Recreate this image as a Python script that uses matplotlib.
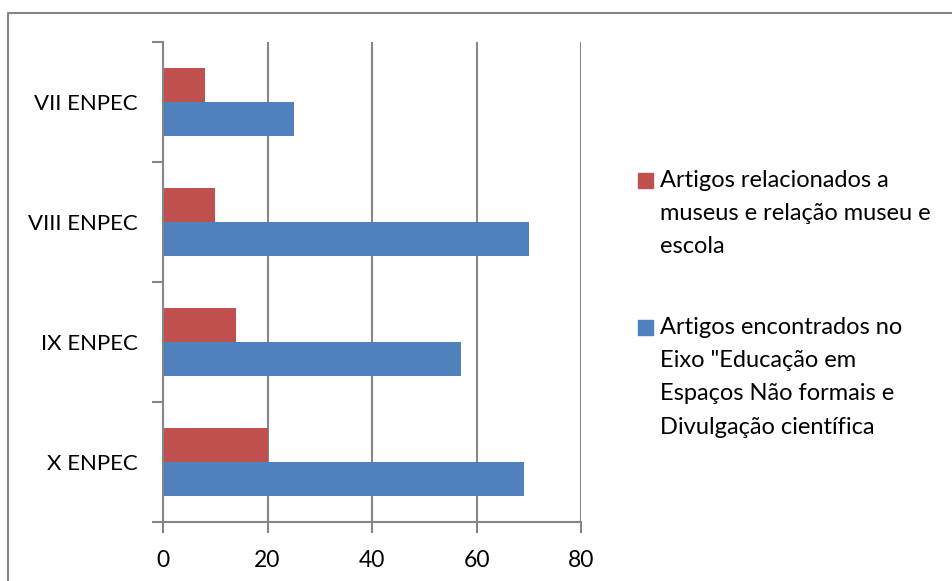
import numpy as np
import matplotlib.pyplot as plt
from matplotlib.patches import Rectangle
from matplotlib.lines import Line2D

plt.rcParams['font.family'] = ['Lato', 'DejaVu Sans']

# data, bottom to top as drawn
eventos = ['X ENPEC', 'IX ENPEC', 'VIII ENPEC', 'VII ENPEC']
museus = [20, 14, 10, 8]
eixo = [69, 57, 70, 25]

lbl_museus = 'Artigos relacionados a\nmuseus e relação museu e\nescola'
lbl_eixo = 'Artigos encontrados no\nEixo "Educação em\nEspaços Não formais e\nDivulgação científica'

red = '#C0504D'
blue = '#4F81BD'
gray = '#868686'

W, H = 953, 581
fig = plt.figure(figsize=(W/100, H/100), dpi=100)
ax = fig.add_axes([163/W, 59/H, 418/W, 480/H])

y = np.arange(len(eventos))
h = 0.2857
ax.barh(y + h/2, museus, height=h, color=red, zorder=3)
ax.barh(y - h/2, eixo, height=h, color=blue, zorder=3)

ax.set_xlim(0, 80)
ax.set_ylim(-0.5, len(eventos) - 0.5)
ax.set_xticks(np.arange(0, 81, 20))
ax.set_yticks(y)
ax.set_yticklabels(eventos)
ax.set_yticks(np.arange(-0.5, len(eventos), 1), minor=True)
ax.tick_params(axis='y', which='major', length=0, pad=18, labelsize=16)
ax.tick_params(axis='y', which='minor', length=8, width=1.5, color=gray)
ax.tick_params(axis='x', length=8, width=1.5, color=gray, pad=12, labelsize=16.5)
ax.xaxis.grid(True, color=gray, linewidth=1.5, zorder=0)

for s in ['top', 'right']:
    ax.spines[s].set_visible(False)
for s in ['left', 'bottom']:
    ax.spines[s].set_color(gray)
    ax.spines[s].set_linewidth(1.5)
    ax.spines[s].set_zorder(4)

# legend, square aligned with the first line of each label
for lbl, col, top in [(lbl_museus, red, 173), (lbl_eixo, blue, 320)]:
    fig.add_artist(Rectangle((638/W, 1 - (top + 15)/H), 15/W, 15/H,
                             transform=fig.transFigure, color=col))
    fig.text(660/W, 1 - (top - 3)/H, lbl, fontsize=17, va='top', ha='left',
             linespacing=1.72)

# outer chart border
fig.add_artist(Line2D([8/W, 8/W, 1], [0, 1 - 13/H, 1 - 13/H],
                      transform=fig.transFigure, color=gray, linewidth=1.5))

fig.savefig('out.png', dpi=100)
